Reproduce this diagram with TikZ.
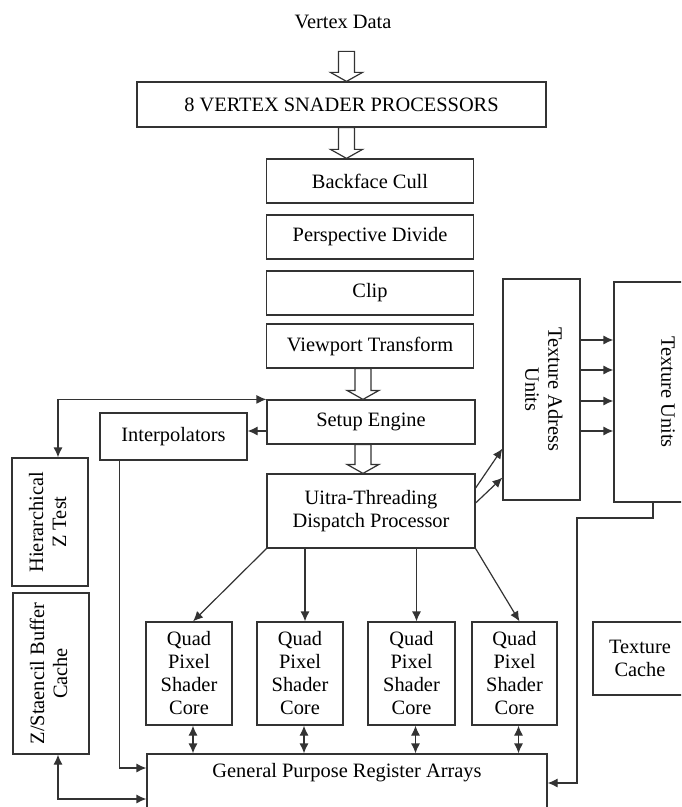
\documentclass[tikz,border=0pt]{standalone}
\usepackage{fontspec}
\setmainfont{Liberation Serif}
\usepackage{graphicx}
\usetikzlibrary{calc}
\usetikzlibrary{arrows.meta}

\tikzset{
	blk/.style={draw=black!80,line width=0.6pt,align=center,inner sep=0pt},
	sz/.style 2 args={minimum width=#1*0.5pt,minimum height=#2*0.5pt},
	con/.style={draw=black!80,line width=0.6pt},
	>={Latex[length=5pt,width=4.5pt]}
}
\newcommand{\hollowarrow}[2]{%
	\draw[con,fill=white] let \p1=#1, \p2=#2 in
	(\x1-4pt,\y1) -- (\x1-4pt,\y2+4.5pt) -- (\x1-8pt,\y2+4.5pt) -- (\x1,\y2)
	-- (\x1+8pt,\y2+4.5pt) -- (\x1+4pt,\y2+4.5pt) -- (\x1+4pt,\y1) -- cycle;}

\begin{document}
\begin{tikzpicture}[x=0.5pt,y=-0.5pt,font=\fontsize{10.2}{11.5}\selectfont]
	\useasboundingbox (0,0) rectangle (681,807);
	\clip (0,0) rectangle (681,807);

	\node (vd) at (343,22) {Vertex Data};
	\node[blk,sz={409}{45}] (vsp) at (341.5,104.5) {8 VERTEX SNADER PROCESSORS};
	\node[blk,sz={207}{44}] (cull) at (370,181) {Backface Cull};
	\node[blk,sz={207}{44}] (persp) at (370,237) {Perspective Divide};
	\node[blk,sz={207}{44}] (clip) at (370,293) {Clip};
	\node[blk,sz={207}{44}] (view) at (370,346) {Viewport Transform};
	\node[blk,sz={208}{44}] (setup) at (371,422) {Setup Engine};
	\node[blk,sz={208}{74}] (disp) at (371,511) {Uitra-Threading\\Dispatch Processor};
	\node[blk,sz={147}{47}] (interp) at (173.5,436.5) {Interpolators};

	\node[blk,sz={77}{221}] (tau) at (541.5,389.5) {\rotatebox{-90}{\begin{tabular}{@{}c@{}}Texture Adress\\Units\end{tabular}}};
	\node[blk,sz={108}{220}] (tu) at (668,392) {\rotatebox{-90}{Texture Units}};
	\node[blk,sz={76}{128}] (hzt) at (50,522) {\rotatebox{90}{\begin{tabular}{@{}c@{}}Hierarchical\\Z Test\end{tabular}}};
	\node[blk,sz={76}{161}] (zsb) at (51,673.5) {\rotatebox{90}{\begin{tabular}{@{}c@{}}Z/Staencil Buffer\\Cache\end{tabular}}};

	\node[blk,sz={86}{103}] (q1) at (189,673.5) {Quad\\Pixel\\Shader\\Core};
	\node[blk,sz={86}{103}] (q2) at (300,673.5) {Quad\\Pixel\\Shader\\Core};
	\node[blk,sz={87}{103}] (q3) at (411.5,673.5) {Quad\\Pixel\\Shader\\Core};
	\node[blk,sz={85}{103}] (q4) at (514.5,673.5) {Quad\\Pixel\\Shader\\Core};
	\node[blk,sz={94}{73}] (tc) at (640,658.5) {Texture\\Cache};

	\node[blk,sz={400}{58}] (gpra) at (347,783) {};
	\node (gpratext) at (347,773) {General Purpose Register Arrays};

	% main pipe
	\hollowarrow{([xshift=2.5pt,yshift=15pt]vsp.north)}{([xshift=2.5pt]vsp.north)}
	\hollowarrow{([xshift=2.5pt]vsp.south)}{(cull.north)}
	\hollowarrow{([xshift=-3.5pt]view.south)}{(setup.north)}
	\hollowarrow{([xshift=-4pt]setup.south)}{(disp.north)}

	\draw[con,<->] ([xshift=4pt]hzt.north) |- (setup.north west);
	\draw[con,->] ([yshift=-4.5pt]setup.west) -- ([yshift=-4.5pt]setup.west -| interp.east);
	\draw[con,->] ([xshift=10pt]interp.south west) |- ([yshift=7.5pt]gpra.west);
	\draw[con,<->] ([xshift=3.5pt]zsb.south) |- ([yshift=-8pt]gpra.west);

	\draw[con,->] ([yshift=11.5pt]disp.east) -- ([yshift=26pt]tau.south west);
	\draw[con,->] ([yshift=4pt]disp.east) -- ([yshift=11.5pt]tau.south west);
	\foreach \dy in {24.75,9.75,-5.75,-20.75}
		\draw[con,->] ([yshift=\dy pt]tau.east) -- ([yshift=\dy pt]tau.east -| tu.west);

	\coordinate (tbend) at (577,518);
	\draw[con,->] ([xshift=-7.5pt]tu.south) |- (tbend) |- (gpra.east);

	% dispatch to cores
	\draw[con,->] (disp.south west) -- ($(q1.north)+(4,0)$);
	\draw[con,->] ($(q2.north |- disp.south)+(5,0)$) -- ($(q2.north)+(5,0)$);
	\draw[con,->] ($(q3.north |- disp.south)+(5,0)$) -- ($(q3.north)+(5,0)$);
	\draw[con,->] (disp.south east) -- ($(q4.north)+(5,0)$);
	\foreach \q in {q1,q2,q3,q4}
		\draw[con,<->] ($(\q.south)+(4,0)$) -- ($(\q.south |- gpra.north)+(4,0)$);
\end{tikzpicture}
\end{document}
